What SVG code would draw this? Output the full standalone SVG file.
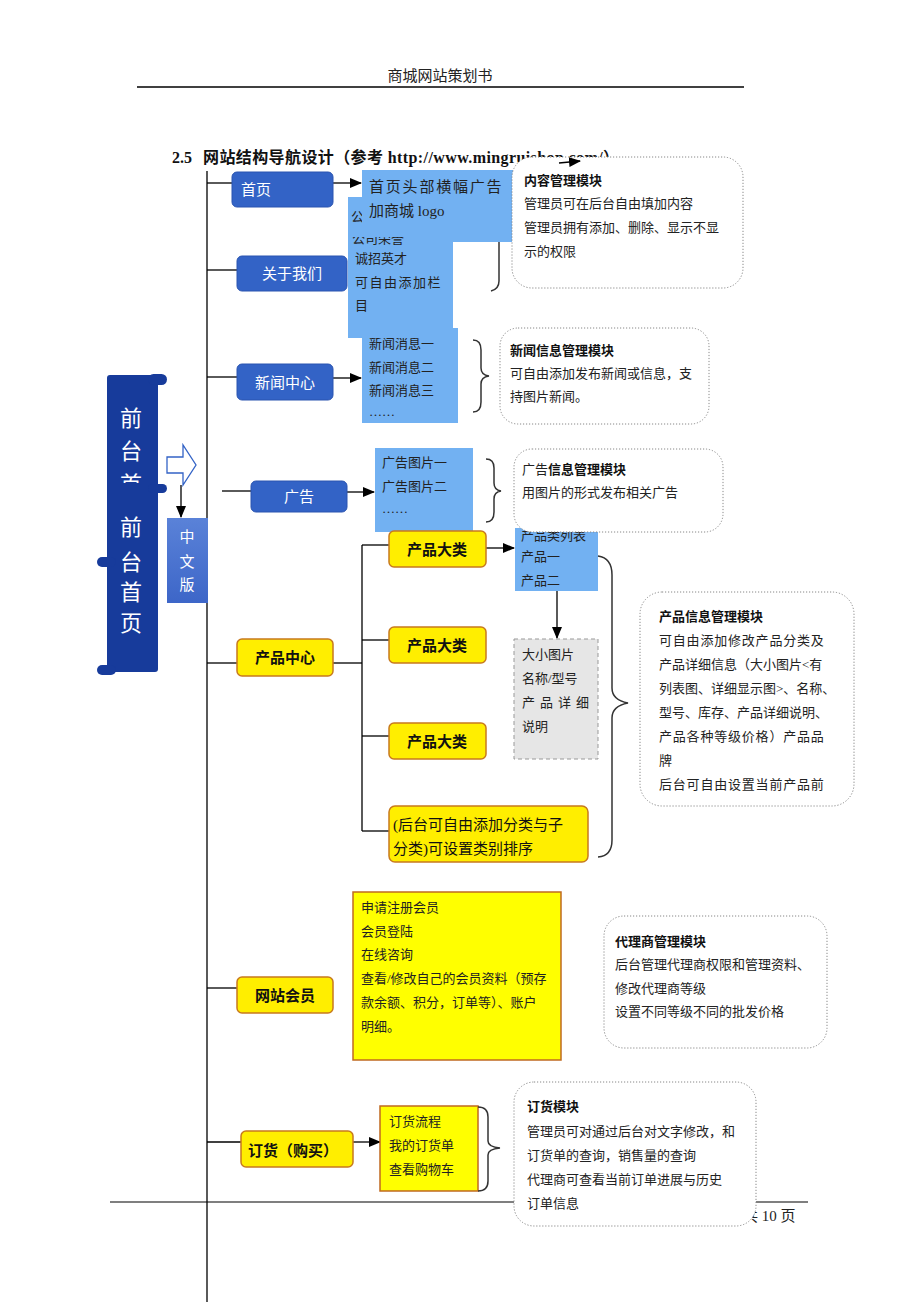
<svg xmlns="http://www.w3.org/2000/svg" width="920" height="1302" viewBox="0 0 920 1302">
<defs>
<marker id="arr" markerUnits="userSpaceOnUse" markerWidth="12" markerHeight="10" refX="11" refY="5" orient="auto">
<path d="M0,0 L12,5 L0,10 Z" fill="#000"/>
</marker>
<linearGradient id="gz" x1="0" y1="0" x2="0" y2="1">
<stop offset="0" stop-color="#5a82d8"/>
<stop offset="1" stop-color="#3d66c8"/>
</linearGradient>
<clipPath id="clipA"><rect x="340" y="237" width="120" height="110"/></clipPath>
<clipPath id="clipB"><rect x="340" y="211" width="22" height="20"/></clipPath>
<clipPath id="clipN"><rect x="362" y="338" width="96" height="90"/></clipPath>
<clipPath id="clipF"><rect x="100" y="390" width="60" height="93"/></clipPath>
</defs>
<style>
.t{font-family:"Liberation Serif","Noto Sans CJK SC",serif;font-size:13px;fill:#222}
.hb{font-family:"Liberation Sans","Noto Sans CJK SC",sans-serif;font-size:13px;font-weight:bold;fill:#111}
.bn{fill:#3363c6;stroke:#2a54b0;stroke-width:1}
.bl{font-family:"Liberation Sans","Noto Sans CJK SC",sans-serif;font-size:15px;fill:#fff}
.yn{fill:#ffee00;stroke:#c87a1e;stroke-width:1.5}
.yl{font-family:"Liberation Sans","Noto Sans CJK SC",sans-serif;font-size:15px;font-weight:bold;fill:#111}
.lb{fill:#72b1f2}
.dot{fill:#fff;stroke:#888;stroke-width:1;stroke-dasharray:1.2 1.8}
.ln{fill:none;stroke:#000;stroke-width:1.3}
.br{fill:none;stroke:#333;stroke-width:1.5}
.vt{font-family:"Liberation Sans","Noto Sans CJK SC",sans-serif;font-size:22px;fill:#fff;text-anchor:middle}
</style>
<rect width="920" height="1302" fill="#fff"/>

<!-- header -->
<text x="440" y="81" text-anchor="middle" style="font-family:'Liberation Serif','Noto Sans CJK SC',serif;font-size:15px;fill:#222">商城网站策划书</text>
<line x1="137" y1="87" x2="744" y2="87" stroke="#000" stroke-width="1.5"/>
<text x="172" y="163" style="font-family:'Liberation Serif','Noto Sans CJK SC',serif;font-size:16px;font-weight:bold;fill:#111">2.5<tspan x="203" letter-spacing="0.4">网站结构导航设计（参考 http://www.mingruishop.com/）</tspan></text>

<!-- footer -->
<line x1="110" y1="1202" x2="808" y2="1202" stroke="#000" stroke-width="1.2"/>
<text x="743" y="1221" style="font-family:'Liberation Serif','Noto Sans CJK SC',serif;font-size:15px;fill:#222">共 10 页</text>

<g id="connectors">
<line class="ln" x1="207" y1="171" x2="207" y2="1302"/>
<line class="ln" x1="207" y1="183" x2="232" y2="183"/>
<line class="ln" x1="207" y1="270" x2="237" y2="270"/>
<line class="ln" x1="207" y1="377" x2="237" y2="377"/>
<line class="ln" x1="222" y1="491" x2="251" y2="491"/>
<line class="ln" x1="207" y1="663" x2="237" y2="663"/>
<line class="ln" x1="207" y1="988" x2="237" y2="988"/>
<line class="ln" x1="207" y1="1142" x2="241" y2="1142"/>
<line class="ln" x1="333" y1="183" x2="361" y2="183" marker-end="url(#arr)"/>
<line class="ln" x1="333" y1="378" x2="361" y2="378" marker-end="url(#arr)"/>
<line class="ln" x1="347" y1="492" x2="374" y2="492" marker-end="url(#arr)"/>
<line class="ln" x1="333" y1="663" x2="362" y2="663"/>
<line class="ln" x1="362" y1="545" x2="362" y2="831"/>
<line class="ln" x1="362" y1="545" x2="389" y2="545"/>
<line class="ln" x1="362" y1="640" x2="389" y2="640"/>
<line class="ln" x1="362" y1="736" x2="389" y2="736"/>
<line class="ln" x1="362" y1="831" x2="389" y2="831"/>
<line class="ln" x1="486" y1="548" x2="514" y2="548" marker-end="url(#arr)"/>
<line class="ln" x1="557" y1="590" x2="557" y2="638" marker-end="url(#arr)"/>
<line class="ln" x1="353" y1="1142" x2="380" y2="1142" marker-end="url(#arr)"/>
<line class="ln" x1="181" y1="485" x2="181" y2="517" marker-end="url(#arr)"/>
</g>

<!-- left scroll -->
<g id="front-home">
<rect x="107" y="375" width="51" height="297" rx="3" fill="#173b9b"/>
<rect x="148" y="374" width="19" height="11" rx="5.5" fill="#173b9b"/>
<rect x="148" y="484" width="19" height="9" rx="4.5" fill="#173b9b"/>
<rect x="97" y="557" width="19" height="10" rx="5" fill="#173b9b"/>
<rect x="97" y="665" width="19" height="10" rx="5" fill="#173b9b"/>
<g clip-path="url(#clipF)">
<text class="vt" x="131" y="426">前</text>
<text class="vt" x="131" y="459">台</text>
<text class="vt" x="131" y="492">首</text>
</g>
<text class="vt" x="131" y="535">前</text>
<text class="vt" x="131" y="570">台</text>
<text class="vt" x="131" y="600">首</text>
<text class="vt" x="131" y="631">页</text>
</g>

<g id="hollow-arrow">
<path d="M167,457 L183,457 L183,445 L196,465 L183,485 L183,473 L167,473 Z" fill="#fff" stroke="#3363c6" stroke-width="1.3"/>
</g>

<g id="zh-version">
<rect x="167" y="518" width="41" height="85" fill="url(#gz)"/>
<text x="187" y="542" text-anchor="middle" style="font-family:'Liberation Sans','Noto Sans CJK SC',sans-serif;font-size:15px;fill:#fff">中</text>
<text x="187" y="567" text-anchor="middle" style="font-family:'Liberation Sans','Noto Sans CJK SC',sans-serif;font-size:15px;fill:#fff">文</text>
<text x="187" y="590" text-anchor="middle" style="font-family:'Liberation Sans','Noto Sans CJK SC',sans-serif;font-size:15px;fill:#fff">版</text>
</g>

<!-- blue nodes -->
<g id="home"><rect class="bn" x="232" y="172" width="101" height="35" rx="5"/><text class="bl" x="241" y="195">首页</text></g>
<g id="about"><rect class="bn" x="237" y="256" width="110" height="35" rx="5"/><text class="bl" x="292" y="279" text-anchor="middle">关于我们</text></g>
<g id="news"><rect class="bn" x="237" y="364" width="96" height="36" rx="5"/><text class="bl" x="285" y="388" text-anchor="middle">新闻中心</text></g>
<g id="ads"><rect class="bn" x="251" y="481" width="96" height="31" rx="5"/><text class="bl" x="299" y="502" text-anchor="middle">广告</text></g>

<!-- about list box -->
<g id="about-list">
<rect class="lb" x="348" y="197" width="105" height="141"/>
<g clip-path="url(#clipB)"><text class="t" x="351" y="221">公</text></g>
<g clip-path="url(#clipA)"><text class="t" x="352" y="243">公司荣誉</text></g>
<text class="t" x="355" y="263">诚招英才</text>
<text class="t" x="355" y="287" letter-spacing="1.5">可自由添加栏</text>
<text class="t" x="355" y="310">目</text>
</g>

<g id="home-banner">
<rect class="lb" x="362" y="170" width="151" height="63"/>
<rect class="lb" x="453" y="170" width="60" height="72"/>
<text class="t" x="369" y="192" style="font-size:15px" letter-spacing="1.8">首页头部横幅广告</text>
<text class="t" x="369" y="216" style="font-size:15px">加商城 logo</text>
</g>

<g id="about-brace"><path class="br" d="M499,242 L499,281 Q499,289 491,291"/></g>

<g id="content-mgmt">
<rect class="dot" x="512" y="157" width="231" height="131" rx="20"/>
<text class="hb" x="524" y="185">内容管理模块</text>
<text class="t" x="524" y="208">管理员可在后台自由填加内容</text>
<text class="t" x="524" y="232">管理员拥有添加、删除、显示不显</text>
<text class="t" x="524" y="256">示的权限</text>
</g>
<g id="top-arrow"><line class="ln" x1="559" y1="163" x2="580" y2="161" marker-end="url(#arr)"/></g>

<g id="news-list">
<rect class="lb" x="362" y="328" width="96" height="95"/>
<g clip-path="url(#clipN)"><text class="t" x="369" y="348">新闻消息一</text></g>
<text class="t" x="369" y="372">新闻消息二</text>
<text class="t" x="369" y="395">新闻消息三</text>
<text class="t" x="369" y="416">……</text>
</g>
<g id="news-brace"><path class="br" d="M473,340 Q481,340 481,350 L481,368 Q481,375 489,376 Q481,377 481,384 L481,402 Q481,412 473,412"/></g>
<g id="news-mgmt">
<rect class="dot" x="500" y="328" width="209" height="96" rx="18"/>
<text class="hb" x="510" y="355">新闻信息管理模块</text>
<text class="t" x="510" y="378">可自由添加发布新闻或信息，支</text>
<text class="t" x="510" y="401">持图片新闻。</text>
</g>

<g id="ad-list">
<rect class="lb" x="375" y="448" width="98" height="84"/>
<text class="t" x="382" y="467">广告图片一</text>
<text class="t" x="382" y="491">广告图片二</text>
<text class="t" x="382" y="513">……</text>
</g>
<g id="ad-brace"><path class="br" d="M486,459 Q494,459 494,468 L494,483 Q494,490 501,491 Q494,492 494,499 L494,512 Q494,522 486,522"/></g>

<g id="product-list">
<rect class="lb" x="515" y="528" width="83" height="63"/>
<text class="t" x="521" y="540">产品类列表</text>
<text class="t" x="521" y="561">产品一</text>
<text class="t" x="521" y="585">产品二</text>
</g>

<g id="ad-mgmt">
<rect class="dot" x="514" y="449" width="209" height="83" rx="18"/>
<text x="522" y="474" style="font-family:'Liberation Sans','Noto Sans CJK SC',sans-serif;font-size:13px;fill:#222">广告<tspan font-weight="bold" fill="#111">信息管理模块</tspan></text>
<text class="t" x="522" y="497">用图片的形式发布相关广告</text>
</g>

<g id="product-brace"><path class="br" d="M598,556 Q612,558 612,575 L612,688 Q612,700 628,703 Q612,706 612,718 L612,840 Q612,856 598,857"/></g>

<g id="product-detail">
<rect x="514" y="639" width="84" height="120" fill="#e6e6e6" stroke="#999" stroke-width="1" stroke-dasharray="4 3"/>
<text class="t" x="522" y="659">大小图片</text>
<text class="t" x="522" y="683">名称/型号</text>
<text class="t" x="522" y="707" letter-spacing="5">产品详细</text>
<text class="t" x="522" y="731">说明</text>
</g>

<g id="product-center"><rect class="yn" x="237" y="639" width="96" height="37" rx="5"/><text class="yl" x="285" y="663" text-anchor="middle">产品中心</text></g>
<g id="cat1"><rect class="yn" x="389" y="531" width="97" height="36" rx="5"/><text class="yl" x="437" y="555" text-anchor="middle">产品大类</text></g>
<g id="cat2"><rect class="yn" x="389" y="627" width="97" height="36" rx="5"/><text class="yl" x="437" y="651" text-anchor="middle">产品大类</text></g>
<g id="cat3"><rect class="yn" x="389" y="723" width="97" height="36" rx="5"/><text class="yl" x="437" y="747" text-anchor="middle">产品大类</text></g>
<g id="cat-note">
<rect class="yn" x="389" y="806" width="199" height="56" rx="6"/>
<text x="393" y="830" style="font-family:'Liberation Serif','Noto Sans CJK SC',serif;font-size:15px;fill:#111">(后台可自由添加分类与子</text>
<text x="393" y="854" style="font-family:'Liberation Serif','Noto Sans CJK SC',serif;font-size:15px;fill:#111">分类)可设置类别排序</text>
</g>

<g id="product-mgmt">
<rect class="dot" x="640" y="592" width="214" height="214" rx="22"/>
<text class="hb" x="659" y="621">产品信息管理模块</text>
<text class="t" x="659" y="645" letter-spacing="0.8">可自由添加修改产品分类及</text>
<text class="t" x="659" y="669">产品详细信息（大小图片&lt;有</text>
<text class="t" x="659" y="693">列表图、详细显示图&gt;、名称、</text>
<text class="t" x="659" y="717">型号、库存、产品详细说明、</text>
<text class="t" x="659" y="741" letter-spacing="0.8">产品各种等级价格）产品品</text>
<text class="t" x="659" y="765">牌</text>
<text class="t" x="659" y="789" letter-spacing="0.8">后台可自由设置当前产品前</text>
</g>

<g id="member"><rect class="yn" x="237" y="977" width="96" height="36" rx="5"/><text class="yl" x="285" y="1001" text-anchor="middle">网站会员</text></g>
<g id="member-list">
<rect x="353" y="892" width="208" height="168" fill="#ffff00" stroke="#c06a20" stroke-width="1.5"/>
<text class="t" x="361" y="912">申请注册会员</text>
<text class="t" x="361" y="936">会员登陆</text>
<text class="t" x="361" y="959">在线咨询</text>
<text class="t" x="361" y="983">查看/修改自己的会员资料（预存</text>
<text class="t" x="361" y="1007">款余额、积分，订单等）、账户</text>
<text class="t" x="361" y="1031">明细。</text>
</g>

<g id="agent-mgmt">
<rect class="dot" x="604" y="916" width="223" height="132" rx="20"/>
<text class="hb" x="615" y="946">代理商管理模块</text>
<text class="t" x="615" y="969">后台管理代理商权限和管理资料、</text>
<text class="t" x="615" y="993">修改代理商等级</text>
<text class="t" x="615" y="1016">设置不同等级不同的批发价格</text>
</g>

<g id="order"><rect class="yn" x="241" y="1131" width="112" height="36" rx="5"/><text class="yl" x="248" y="1156">订货（购买）</text></g>
<g id="order-list">
<rect x="380" y="1106" width="98" height="85" fill="#ffff00" stroke="#c06a20" stroke-width="1.5"/>
<text class="t" x="389" y="1126">订货流程</text>
<text class="t" x="389" y="1150">我的订货单</text>
<text class="t" x="389" y="1174">查看购物车</text>
</g>
<g id="order-brace"><path class="br" d="M478,1107 Q488,1107 488,1117 L488,1141 Q488,1147 500,1148 Q488,1149 488,1155 L488,1181 Q488,1191 478,1191"/></g>

<g id="order-mgmt">
<rect class="dot" x="514" y="1082" width="242" height="144" rx="20"/>
<text class="hb" x="527" y="1111">订货模块</text>
<text class="t" x="527" y="1136">管理员可对通过后台对文字修改，和</text>
<text class="t" x="527" y="1160">订货单的查询，销售量的查询</text>
<text class="t" x="527" y="1184">代理商可查看当前订单进展与历史</text>
<text class="t" x="527" y="1208">订单信息</text>
</g>
</svg>
